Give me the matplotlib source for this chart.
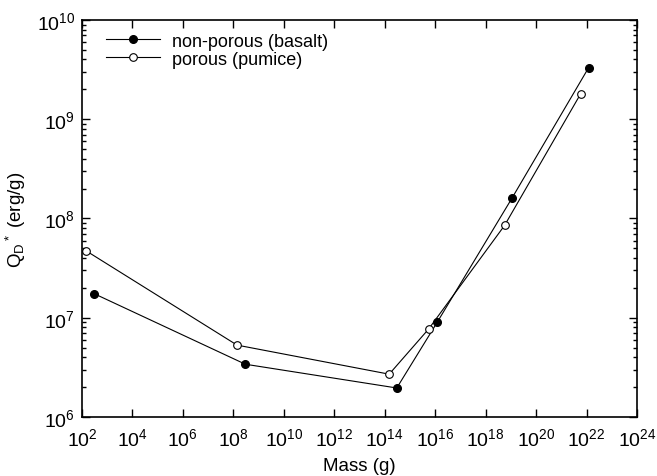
import matplotlib
matplotlib.use("Agg")
import matplotlib.pyplot as plt
from matplotlib.ticker import LogLocator, NullLocator, FixedLocator

plt.rcParams["font.family"] = ["Liberation Sans", "DejaVu Sans"]
plt.rcParams["mathtext.fontset"] = "custom"
plt.rcParams["mathtext.rm"] = "Liberation Sans"
plt.rcParams["mathtext.it"] = "Liberation Sans"

# basalt (non-porous)
basalt_mass = [3e2, 3e8, 3e14, 1.2e16, 1.1e19, 1.2e22]
basalt_q = [1.75e7, 3.4e6, 1.96e6, 9.0e6, 1.6e8, 3.3e9]

# pumice (porous)
pumice_mass = [1.5e2, 1.4e8, 1.5e14, 5.5e15, 5.6e18, 5.8e21]
pumice_q = [4.7e7, 5.3e6, 2.7e6, 7.7e6, 8.5e7, 1.8e9]

x_ticks = [10.0 ** e for e in range(2, 25, 2)]
y_ticks = [10.0 ** e for e in range(6, 11)]

fig = plt.figure(figsize=(6.57, 4.77), dpi=100)
ax = fig.add_axes([0.1248, 0.1237, 0.8448, 0.8323])

ax.plot(basalt_mass, basalt_q, "-o", color="black", lw=0.8,
        markersize=5.5, markerfacecolor="black", label="non-porous (basalt)")
ax.plot(pumice_mass, pumice_q, "-o", color="black", lw=0.8,
        markersize=5.5, markerfacecolor="white", markeredgewidth=0.8,
        label="porous (pumice)")

ax.set_xscale("log")
ax.set_yscale("log")
ax.set_xlim(1e2, 1e24)
ax.set_ylim(1e6, 1e10)

ax.xaxis.set_major_locator(FixedLocator(x_ticks))
ax.xaxis.set_minor_locator(NullLocator())
ax.yaxis.set_major_locator(FixedLocator(y_ticks))
ax.yaxis.set_minor_locator(LogLocator(base=10, subs=range(2, 10)))
ax.yaxis.set_minor_formatter(plt.NullFormatter())

ax.tick_params(which="both", direction="in", top=True, right=True,
               labelsize=14, width=1.0)
ax.tick_params(which="major", length=6, pad=5)
ax.tick_params(axis="x", which="major", pad=7)
ax.tick_params(which="minor", length=3)
for s in ax.spines.values():
    s.set_linewidth(1.2)

ax.set_xlabel("Mass (g)", fontsize=13.5, labelpad=6)
ax.set_ylabel(r"Q$_\mathregular{D}$$^*$ (erg/g)", fontsize=13.5, labelpad=6)

ax.legend(loc="upper left", frameon=False, fontsize=13, handlelength=3.0,
          borderaxespad=0.3, labelspacing=0.05, handletextpad=0.65,
          bbox_to_anchor=(0.02, 1.0))

fig.savefig("out.png", dpi=100)
